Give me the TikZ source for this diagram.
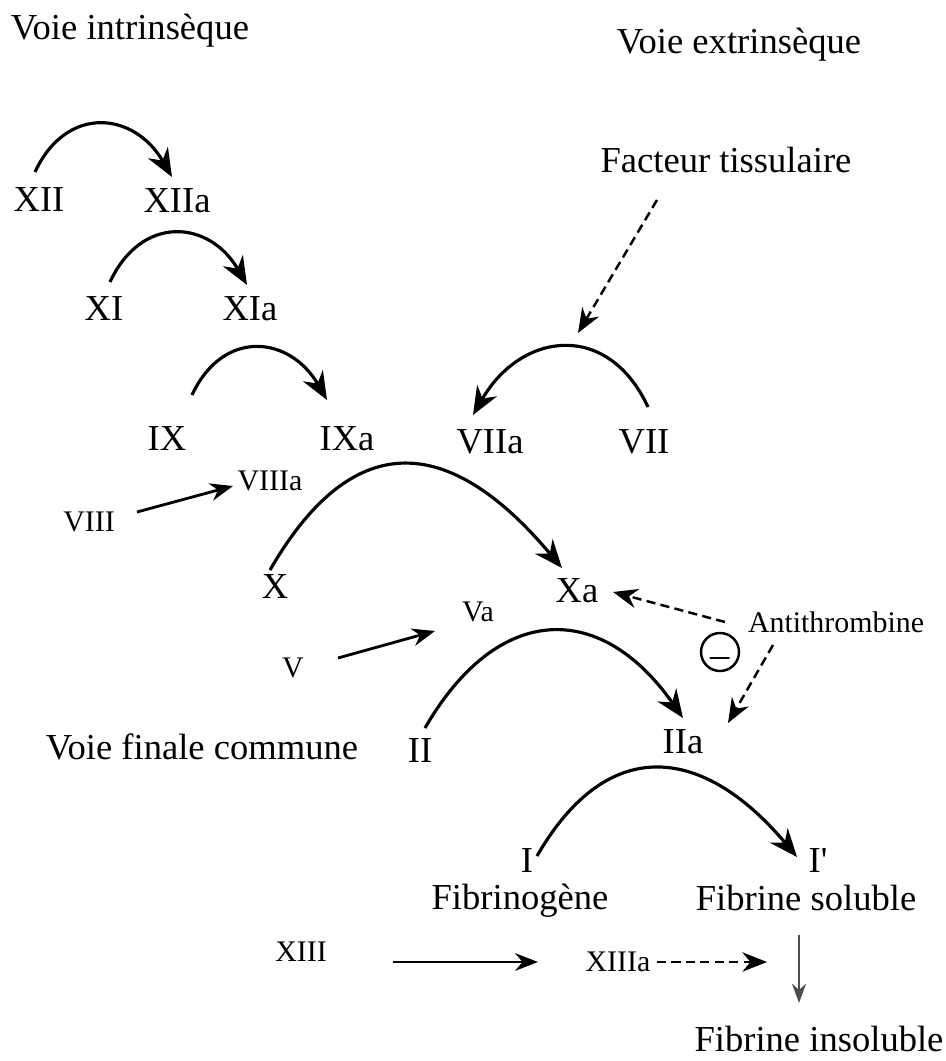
\documentclass[tikz,border=0pt]{standalone}
\usepackage{fontspec}
\setmainfont{Liberation Serif}
\usetikzlibrary{arrows.meta}
\tikzset{
  lbl/.style={inner sep=0pt, text height=6.9pt, text depth=0pt,
              font=\fontsize{10.4}{12}\selectfont},
  sml/.style={lbl, text height=5.6pt, font=\fontsize{8.5}{10}\selectfont},
  conv/.style={-{Stealth[length=8pt,width=6.5pt]}, line width=0.9pt},
  act/.style={-{Stealth[length=6.5pt,width=5pt]}, line width=0.8pt},
  dsh/.style={-{Stealth[length=7pt,width=5.5pt]}, line width=0.7pt,
              dash pattern=on 2.6pt off 1.5pt},
}

\begin{document}
\begin{tikzpicture}[x=0.01cm, y=0.01cm]
  \useasboundingbox (0,0) rectangle (945,-1061);
  % titres
  \node[lbl] (intr) at (130,-27) {Voie intrinsèque};
  \node[lbl] (extr) at (739,-41) {Voie extrinsèque};
  \node[lbl] (ft) at (726,-160) {Facteur tissulaire};
  \node[lbl] (comm) at (202,-747) {Voie finale commune};
  % facteurs
  \node[lbl] (XII) at (39,-199.5) {XII};
  \node[lbl] (XIIa) at (177,-200) {XIIa};
  \node[lbl] (XI) at (104,-308) {XI};
  \node[lbl] (XIa) at (250,-308) {XIa};
  \node[lbl] (IX) at (167,-438) {IX};
  \node[lbl] (IXa) at (347,-438) {IXa};
  \node[lbl] (VIIa) at (490,-441) {VIIa};
  \node[lbl] (VII) at (644,-441) {VII};
  \node[sml] (VIIIa) at (270,-481) {VIIIa};
  \node[sml] (VIII) at (89,-522) {VIII};
  \node[lbl] (X) at (275,-586) {X};
  \node[lbl] (Xa) at (577,-590) {Xa};
  \node[sml] (Va) at (478,-612) {Va};
  \node[sml] (V) at (293,-668) {V};
  \node[sml] (anti) at (836,-623) {Antithrombine};
  \node[draw, circle, line width=0.7pt, minimum size=0.38cm, inner sep=0pt]
    (moins) at (720,-652) {\raisebox{-4.5pt}[0pt][0pt]{\fontsize{11}{11}\selectfont --}};
  \node[lbl] (II) at (420,-750) {II};
  \node[lbl] (IIa) at (683,-741) {IIa};
  \node[lbl] (I) at (527,-860) {I};
  \node[lbl] (Ip) at (818,-860) {I\textquotesingle};
  \node[lbl] (fgn) at (520,-897) {Fibrinogène};
  \node[lbl] (fsol) at (806,-898) {Fibrine soluble};
  \node[sml] (XIII) at (301,-952) {XIII};
  \node[sml] (XIIIa) at (618,-962) {XIIIa};
  \node[lbl] (fins) at (819,-1039) {Fibrine insoluble};
  \coordinate (arcVII) at (578,-333);
  \coordinate (pont) at (767,-962);

  % activations
  \draw[conv] ([shift={(-4,27.5)}]XII.center) to[out=65,in=120,looseness=1.4] ([shift={(-5,23)}]XIIa.center);
  \draw[conv] ([shift={(6,26)}]XI.center) to[out=65,in=120,looseness=1.4] ([shift={(-3,23)}]XIa.center);
  \draw[conv] ([shift={(25,43)}]IX.center) to[out=65,in=120,looseness=1.4] ([shift={(-20,38)}]IXa.center);
  \draw[conv] ([shift={(4,34)}]VII.center) to[out=115,in=60,looseness=1.4] ([shift={(-17,26)}]VIIa.center);
  \draw[conv] ([shift={(-5,16)}]X.center) to[out=60,in=130,looseness=1.49] ([shift={(-15,22)}]Xa.center);
  \draw[conv] ([shift={(5,22)}]II.center) to[out=60,in=125,looseness=1.43] ([shift={(0,23)}]IIa.center);
  \draw[conv] ([shift={(10,4)}]I.center) to[out=60,in=130,looseness=1.41] ([shift={(-21,3)}]Ip.center);

  % cofacteurs
  \draw[dsh] ([shift={(-69,-40)}]ft.center) -- (arcVII);
  \draw[act] ([shift={(48,10)}]VIII.center) -- ([shift={(-37,-5)}]VIIIa.center);
  \draw[act] ([shift={(45,10)}]V.center) -- ([shift={(-43,-19)}]Va.center);
  \draw[dsh] ([shift={(-111,1)}]anti.center) -- ([shift={(36,-2)}]Xa.center);
  \draw[dsh] ([shift={(-63,-22)}]anti.center) -- ([shift={(45,18)}]IIa.center);
  \draw[act] ([shift={(92,-10)}]XIII.center) -- ([shift={(-80,0)}]XIIIa.center);
  \draw[dsh] ([shift={(39,0)}]XIIIa.center) -- (pont);
  \draw[-{Stealth[length=5.5pt,width=4pt]}, line width=0.6pt, black!70]
    ([shift={(-7,-37)}]fsol.center) -- ([shift={(-20,36)}]fins.center);
\end{tikzpicture}
\end{document}
